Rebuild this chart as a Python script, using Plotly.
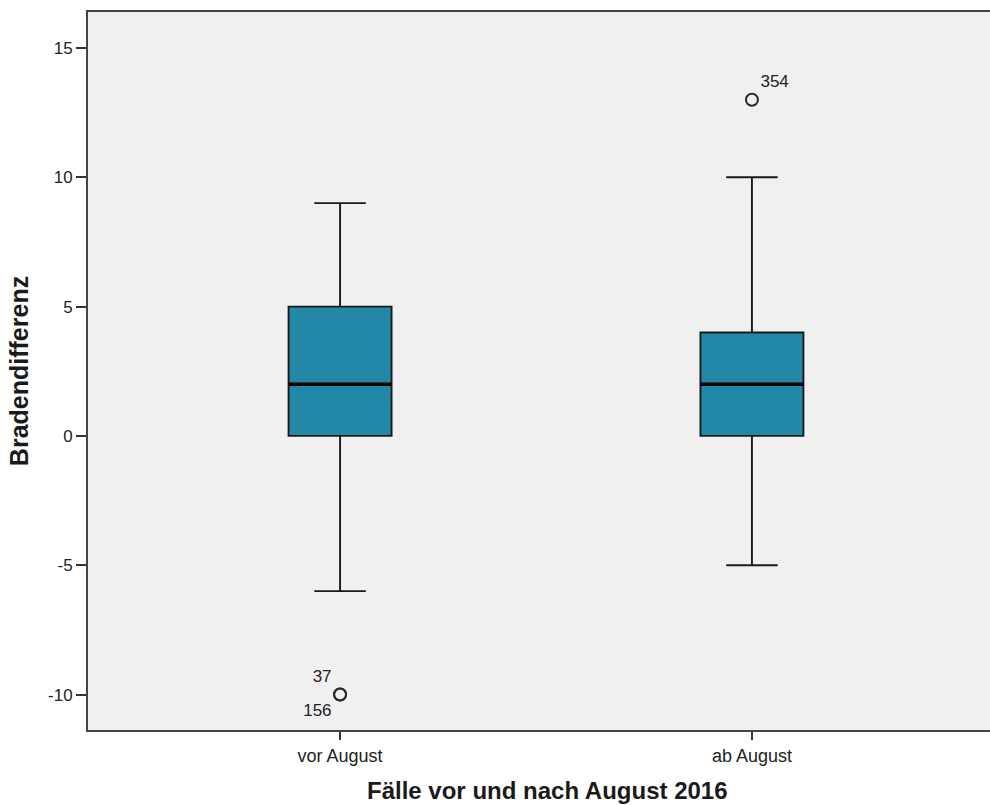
import plotly.graph_objects as go

# Group positions and labels
groups = ["vor August", "ab August"]
positions = [0, 1]

# Box statistics per group
q1 = [0, 0]
median = [2, 2]
q3 = [5, 4]
lower_whisker = [-6, -5]
upper_whisker = [9, 10]

# Outliers: (group index, value, case label, label position)
outlier_group = [0, 0, 1]
outlier_value = [-10, -10, 13]
outlier_case = ["37", "156", "354"]
outlier_textpos = ["top left", "bottom left", "top right"]

# Y axis ticks (hyphen minus as in the labels)
y_ticks = [-10, -5, 0, 5, 10, 15]
y_ticktext = ["-10", "-5", "0", "5", "10", "15"]

x_title = "Fälle vor und nach August 2016"
y_title = "Bradendifferenz"

box_fill = "#2387A8"
box_half = 0.125
font_family = "Liberation Sans, Arial, sans-serif"

fig = go.Figure()

for i, name in enumerate(groups):
    fig.add_trace(go.Box(
        x=[positions[i]],
        q1=[q1[i]], median=[median[i]], q3=[q3[i]],
        lowerfence=[lower_whisker[i]], upperfence=[upper_whisker[i]],
        width=2 * box_half,
        whiskerwidth=0.5,
        fillcolor=box_fill,
        line=dict(color="#1a1a1a", width=1.9),
        boxpoints=False,
        hoverinfo="skip",
        showlegend=False,
    ))
    # heavier median stroke
    fig.add_trace(go.Scatter(
        x=[positions[i] - box_half, positions[i] + box_half],
        y=[median[i], median[i]],
        mode="lines",
        line=dict(color="black", width=3.4),
        hoverinfo="skip",
        showlegend=False,
    ))

fig.add_trace(go.Scatter(
    x=[positions[g] for g in outlier_group],
    y=outlier_value,
    mode="markers+text",
    marker=dict(symbol="circle-open", size=12, color="#2a2a2a",
                line=dict(width=2, color="#2a2a2a")),
    text=outlier_case,
    textposition=outlier_textpos,
    textfont=dict(family=font_family, size=17, color="#222222"),
    hoverinfo="skip",
    showlegend=False,
))

# x-axis title placed below the tick labels
fig.add_annotation(
    text=f"<b>{x_title}</b>",
    xref="paper", yref="paper",
    x=0.509, y=-0.084, xanchor="center", yanchor="middle",
    showarrow=False,
    font=dict(family=font_family, size=24, color="#1a1a1a"),
)

fig.update_layout(
    width=990, height=805,
    margin=dict(l=88, r=0, t=12, b=75),
    paper_bgcolor="white",
    plot_bgcolor="#F0F0F0",
    font=dict(family=font_family, color="#222222"),
    xaxis=dict(
        range=[-0.612, 1.578],
        tickvals=positions, ticktext=groups,
        tickfont=dict(size=18),
        ticks="outside", ticklen=8, tickwidth=1.8, tickcolor="#333333",
        showgrid=False, zeroline=False,
        showline=True, linecolor="#444444", linewidth=2, mirror=True,
    ),
    yaxis=dict(
        range=[-11.37, 16.39],
        tickvals=y_ticks, ticktext=y_ticktext,
        tickfont=dict(size=17),
        ticks="outside", ticklen=10, tickwidth=1.8, tickcolor="#333333",
        showgrid=False, zeroline=False,
        showline=True, linecolor="#444444", linewidth=2,
        title=dict(text=f"<b>{y_title}</b>",
                   font=dict(size=25, color="#1a1a1a"), standoff=12),
    ),
)

fig.write_html("out.html")
